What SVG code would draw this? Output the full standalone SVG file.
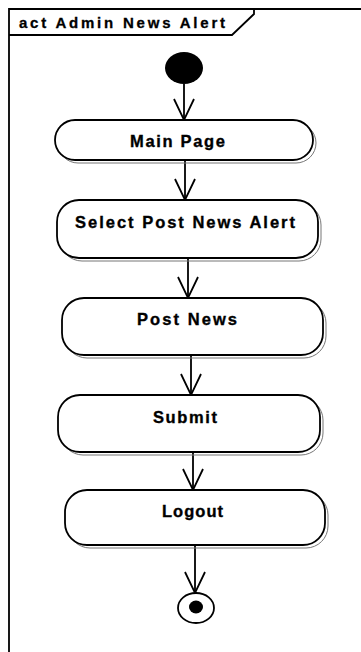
<svg xmlns="http://www.w3.org/2000/svg" width="361" height="652" viewBox="0 0 361 652">
  <style>
    .frame { fill: none; stroke: #000; stroke-width: 1.8; }
    .act { fill: #fff; stroke: #000; stroke-width: 1.8; }
    .shadow { fill: none; stroke: #777; stroke-width: 1; }
    .flow { fill: none; stroke: #000; stroke-width: 1.8; marker-end: url(#open); }
    .lbl { font-family: "Liberation Sans", Arial, sans-serif; font-weight: bold; font-size: 16.5px; fill: #000; stroke: #000; stroke-width: 0.35; }
    .title { font-family: "Liberation Sans", Arial, sans-serif; font-weight: bold; font-size: 15px; fill: #000; stroke: #000; stroke-width: 0.3; }
  </style>
  <defs>
    <marker id="open" viewBox="-23 -12 25 24" markerWidth="25" markerHeight="24" refX="0" refY="0" orient="auto" markerUnits="userSpaceOnUse" overflow="visible">
      <path d="M -21 -10 L 0 0 L -21 10" fill="none" stroke="#000" stroke-width="1.8"/>
    </marker>
  </defs>
  <rect width="361" height="652" fill="#fff"/>

  <!-- activity frame with name tab -->
  <g id="frame">
    <path class="frame" d="M 9 652 L 9 9 L 361 9"/>
    <path class="frame" d="M 9 35 L 232 35 L 254 14 L 254 9"/>
    <text class="title" x="19" y="28" textLength="206" lengthAdjust="spacing">act Admin News Alert</text>
  </g>

  <g id="connectors">
    <line class="flow" x1="184" y1="84" x2="184" y2="120"/>
    <line class="flow" x1="185" y1="160" x2="185" y2="200"/>
    <line class="flow" x1="188" y1="258" x2="188" y2="298"/>
    <line class="flow" x1="191" y1="355" x2="191" y2="395"/>
    <line class="flow" x1="193" y1="452" x2="193" y2="490"/>
    <line class="flow" x1="195" y1="545" x2="195" y2="593"/>
  </g>

  <g id="initial">
    <ellipse cx="184" cy="68" rx="19" ry="16" fill="#000"/>
  </g>

  <g id="main-page">
    <rect class="shadow" x="58" y="123" width="258" height="40" rx="20"/>
    <rect class="act" x="55" y="120" width="258" height="40" rx="20"/>
    <text class="lbl" x="130" y="147" textLength="95" lengthAdjust="spacing">Main Page</text>
  </g>

  <g id="select-post-news-alert">
    <rect class="shadow" x="60" y="203" width="261" height="58" rx="22"/>
    <rect class="act" x="57" y="200" width="261" height="58" rx="22"/>
    <text class="lbl" x="75" y="228" textLength="220" lengthAdjust="spacing">Select Post News Alert</text>
  </g>

  <g id="post-news">
    <rect class="shadow" x="65" y="301" width="261" height="57" rx="22"/>
    <rect class="act" x="62" y="298" width="261" height="57" rx="22"/>
    <text class="lbl" x="137" y="325" textLength="100" lengthAdjust="spacing">Post News</text>
  </g>

  <g id="submit">
    <rect class="shadow" x="61" y="398" width="262" height="57" rx="22"/>
    <rect class="act" x="58" y="395" width="262" height="57" rx="22"/>
    <text class="lbl" x="153" y="423" textLength="64" lengthAdjust="spacing">Submit</text>
  </g>

  <g id="logout">
    <rect class="shadow" x="68" y="493" width="260" height="55" rx="22"/>
    <rect class="act" x="65" y="490" width="260" height="55" rx="22"/>
    <text class="lbl" x="162" y="517" textLength="61" lengthAdjust="spacing">Logout</text>
  </g>

  <g id="final">
    <ellipse cx="196" cy="608" rx="18" ry="15" fill="#fff" stroke="#000" stroke-width="1.8"/>
    <ellipse cx="196" cy="607" rx="7" ry="6.5" fill="#000"/>
  </g>
</svg>
